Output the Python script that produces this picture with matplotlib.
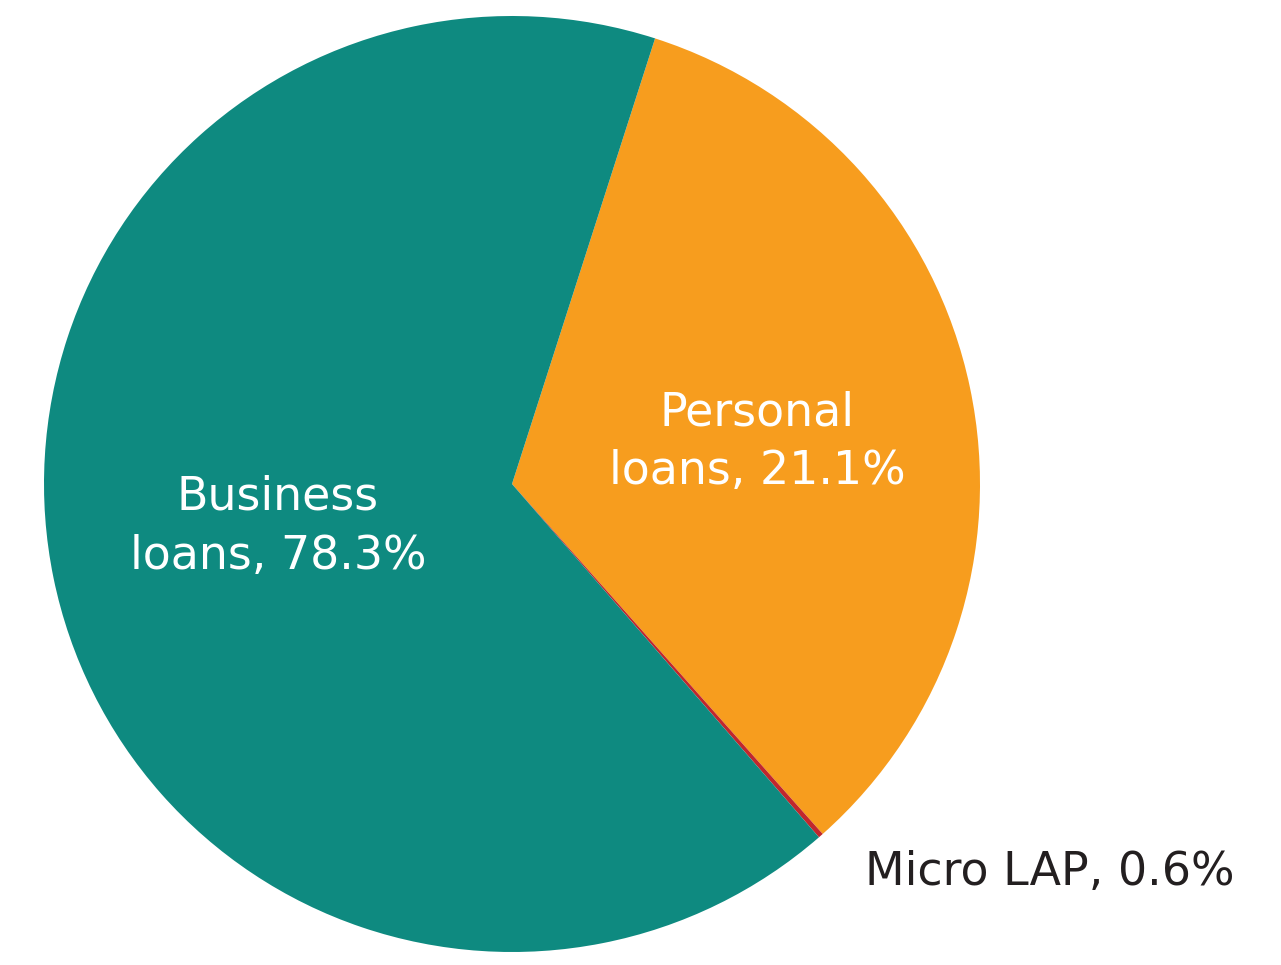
import matplotlib
matplotlib.use("Agg")
import matplotlib.pyplot as plt

# wedge sizes (the printed labels differ from the drawn angles)
segments = ["Personal", "Micro LAP", "Business"]
drawn_share = [33.5, 0.17, 66.33]
labels = ["Personal\nloans, 21.1%", "Micro LAP, 0.6%", "Business\nloans, 78.3%"]
colors = ["#f79d1e", "#c1272d", "#0e8a80"]

plt.rcParams['font.family'] = ['DejaVu Sans']

fig = plt.figure(figsize=(12.81, 9.65), dpi=100)
W, H = 1281, 965
cx, cy, r = 512, 965 - 484, 468
ax = fig.add_axes([(cx - r) / W, (cy - r) / H, 2 * r / W, 2 * r / H])

ax.pie(drawn_share, colors=colors, startangle=72.2, counterclock=False,
       radius=1, wedgeprops=dict(linewidth=0))
ax.set_xlim(-1, 1)
ax.set_ylim(-1, 1)
ax.set_aspect('equal')
ax.axis('off')


def to_data(x, y):
    return (x - cx) / r, ((965 - y) - cy) / r


fs = 33
ax.text(*to_data(757, 442), labels[0], color="white", fontsize=fs,
        ha="center", va="center", linespacing=1.4)
ax.text(*to_data(278, 527), labels[2], color="white", fontsize=fs,
        ha="center", va="center", linespacing=1.4)
ax.text(*to_data(1050, 873), labels[1], color="#231f20", fontsize=fs,
        ha="center", va="center", clip_on=False)

fig.savefig("out.png", dpi=100)
